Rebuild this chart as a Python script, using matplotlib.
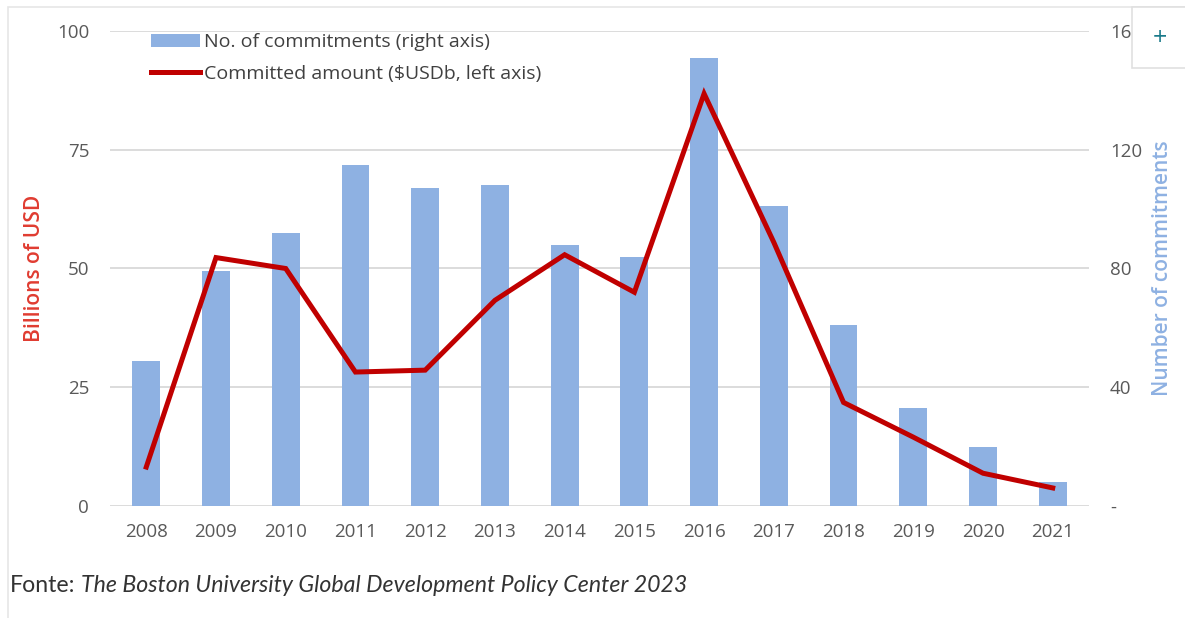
import numpy as np
import matplotlib.pyplot as plt
from matplotlib.patches import Rectangle, Patch
from matplotlib.lines import Line2D

years = ['2008', '2009', '2010', '2011', '2012', '2013', '2014',
         '2015', '2016', '2017', '2018', '2019', '2020', '2021']
commitments = [49, 79, 92, 115, 107, 108, 88, 84, 151, 101, 61, 33, 20, 8]
amount_usdb = [8.2, 52.3, 50.0, 28.2, 28.6, 43.3, 52.9, 45.0, 86.8, 55.5, 21.8, 14.5, 6.9, 3.8]

left_ticks = [0, 25, 50, 75, 100]
right_ticks = [0, 40, 80, 120, 160]
right_labels = ['-', '40', '80', '120', '160']

bar_col = '#8EB1E2'
line_col = '#C00000'
tick_col = '#595959'

plt.rcParams['font.family'] = ['Open Sans', 'DejaVu Sans']

W, H = 1185, 618
fig = plt.figure(figsize=(W/100, H/100), dpi=100)
ax = fig.add_axes([110/W, 112/H, (1089-110)/W, (506-31)/H])
ax2 = ax.twinx()

x = np.arange(len(years))

# bars on right axis, line on left axis; line drawn above bars
ax2.bar(x, commitments, width=0.4, color=bar_col, zorder=2)
ax2.set_ylim(0, 160)
ax.set_ylim(0, 100)
ax.set_zorder(ax2.get_zorder() + 1)
ax.patch.set_visible(False)
ax.plot(x, amount_usdb, color=line_col, lw=3.6, solid_joinstyle='miter', zorder=3)

ax.set_xlim(-0.52, 13.52)
ax.set_yticks(left_ticks)
ax.set_xticks(x)
ax.set_xticklabels(years)
# gridlines go on the bar axes so they sit behind the bars
ax2.set_yticks(right_ticks)
ax2.grid(axis='y', color='#D9D9D9', lw=1.3, zorder=0)
ax2.set_axisbelow(True)
ax2.set_yticklabels(right_labels)
for a in (ax, ax2):
    for s in a.spines.values():
        s.set_visible(False)
ax.tick_params(axis='both', length=0, colors=tick_col, labelsize=13.5)
ax.tick_params(axis='x', pad=12)
ax.tick_params(axis='y', pad=15)
ax2.tick_params(axis='y', length=0, colors=tick_col, labelsize=13.5, pad=15)

fig.text(35/W, 1 - 268/H, 'Billions of USD', rotation=90, color='#E03C31',
         fontsize=15, fontweight='semibold', ha='center', va='center')
fig.text(1162/W, 1 - 268/H, 'Number of commitments', rotation=90, color=bar_col,
         fontsize=15, fontweight='semibold', ha='center', va='center')

handles = [Patch(facecolor=bar_col, edgecolor='none'),
           Line2D([0], [0], color=line_col, lw=3.6)]
labels = ['No. of commitments (right axis)', 'Committed amount ($USDb, left axis)']
leg = ax.legend(handles, labels, loc='upper left', bbox_to_anchor=(0.03, 1.02),
                frameon=False, fontsize=14, handlelength=2.5, handletextpad=0.2,
                labelspacing=0.7, borderaxespad=0.2)
for t in leg.get_texts():
    t.set_color('#404040')

# outer frame and the "+" box
fig.patches.append(Rectangle((8/W, -0.01), 1.1, 1 - 7/H + 0.01, transform=fig.transFigure,
                             fill=False, edgecolor='#E6E6E6', lw=1.2, zorder=0))
fig.patches.append(Rectangle((1132/W, 1 - 68/H), 60/W, 61/H, transform=fig.transFigure,
                             facecolor='white', edgecolor='#E0E0E0', lw=1.2, zorder=10))
fig.text(1160/W, 1 - 38/H, '+', color='#1A7A8A', fontsize=18, ha='center', va='center',
         zorder=11)

# footer: fit "Fonte: ..." between x=10 and x=687
fs = 15
ffam = ['Lato', 'DejaVu Sans']
t1 = fig.text(10/W, 1 - 585/H, 'Fonte:', fontsize=fs, color='#333333', va='center', family=ffam)
t2 = fig.text(0, 1 - 585/H, 'The Boston University Global Development Policy Center 2023',
              fontsize=fs, color='#333333', va='center', style='italic', family=ffam)
r = fig.canvas.get_renderer()
w1 = t1.get_window_extent(r).width + 5
w2 = t2.get_window_extent(r).width
k = (687 - 10) / (w1 + w2)
t1.set_fontsize(fs * k)
t2.set_fontsize(fs * k)
t2.set_x((10 + w1 * k) / W)

fig.savefig('out.png', dpi=100)
